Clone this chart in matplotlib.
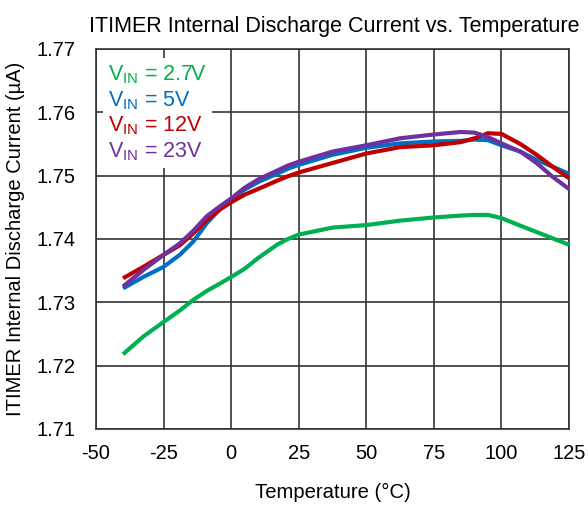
import matplotlib
matplotlib.use("Agg")
import matplotlib.pyplot as plt

plt.rcParams['font.family'] = ['Liberation Sans', 'DejaVu Sans']
plt.rcParams['mathtext.fontset'] = 'custom'
plt.rcParams['mathtext.rm'] = 'Liberation Sans'
plt.rcParams['mathtext.it'] = 'Liberation Sans:italic'
plt.rcParams['mathtext.bf'] = 'Liberation Sans:bold'
plt.rcParams['axes.unicode_minus'] = False

temps = [-40, -32.5, -25, -19, -14, -9, -4, 0, 5, 10, 17, 21, 25, 37.5, 50, 62.5,
         75, 85, 90, 95, 100, 107, 113, 119, 125]

vin_2p7 = [1.7218, 1.7246, 1.7269, 1.7287, 1.7304, 1.7318, 1.7330, 1.7340, 1.7353,
           1.7370, 1.7391, 1.7400, 1.7407, 1.7418, 1.7422, 1.7429, 1.7434, 1.7437,
           1.7438, 1.7438, 1.7433, 1.7421, 1.7411, 1.7401, 1.7391]
vin_5 = [1.7322, 1.7340, 1.7356, 1.7375, 1.7396, 1.7425, 1.7448, 1.7463, 1.7478,
         1.7490, 1.7503, 1.7511, 1.7517, 1.7533, 1.7544, 1.7551, 1.7554, 1.7555,
         1.7557, 1.7556, 1.7548, 1.7538, 1.7525, 1.7514, 1.7503]
vin_12 = [1.7338, 1.7356, 1.7375, 1.7390, 1.7409, 1.7430, 1.7447, 1.7458, 1.7470,
          1.7479, 1.7492, 1.7499, 1.7505, 1.7520, 1.7535, 1.7545, 1.7548, 1.7553,
          1.7559, 1.7567, 1.7566, 1.7550, 1.7533, 1.7514, 1.7496]
vin_23 = [1.7325, 1.7351, 1.7375, 1.7393, 1.7413, 1.7436, 1.7452, 1.7464, 1.7481,
          1.7494, 1.7508, 1.7516, 1.7522, 1.7538, 1.7548, 1.7559, 1.7565, 1.7569,
          1.7568, 1.7561, 1.7551, 1.7538, 1.7520, 1.7498, 1.7479]

labels = [r'V$_{\mathrm{IN}}$ = 2.7V', r'V$_{\mathrm{IN}}$ = 5V',
          r'V$_{\mathrm{IN}}$ = 12V', r'V$_{\mathrm{IN}}$ = 23V']
colors = ['#00B050', '#0070C0', '#C00000', '#7030A0']
series = [vin_2p7, vin_5, vin_12, vin_23]

x_ticks = [-50, -25, 0, 25, 50, 75, 100, 125]
y_ticks = [1.71, 1.72, 1.73, 1.74, 1.75, 1.76, 1.77]

fig = plt.figure(figsize=(5.88, 5.07), dpi=100)
ax = fig.add_axes([96/588, 1-429/507, (569-96)/588, (429-49)/507])

for ys, c, lab in zip(series, colors, labels):
    ax.plot(temps, ys, color=c, lw=3, label=lab, solid_capstyle='butt',
            solid_joinstyle='round', zorder=3)

ax.set_xlim(-50, 125)
ax.set_ylim(1.71, 1.77)
ax.set_xticks(x_ticks)
ax.set_xticklabels([str(v) for v in x_ticks])
ax.set_yticks(y_ticks)
ax.set_yticklabels([f'{v:.2f}' for v in y_ticks])
ax.tick_params(length=0, labelsize=14.5)
ax.tick_params(axis='y', pad=15)
ax.tick_params(axis='x', pad=11)
ax.grid(True, color='#333333', lw=1.2)
ax.set_axisbelow(True)
for s in ax.spines.values():
    s.set_color('#333333')
    s.set_linewidth(1.2)

ax.set_xlabel('Temperature (\u00b0C)', fontsize=14.6, labelpad=14)
ax.set_ylabel('ITIMER Internal Discharge Current (\u00b5A)', fontsize=14.5, labelpad=8)
ax.set_title('ITIMER Internal Discharge Current vs. Temperature', fontsize=15.5,
             pad=12, x=0.503)

leg = ax.legend(loc='upper left', bbox_to_anchor=(0.015, 0.975), frameon=True,
                handlelength=0, handletextpad=0, labelspacing=0.13,
                fontsize=15.5, borderpad=0.25, borderaxespad=0)
leg.get_frame().set_facecolor('white')
leg.get_frame().set_edgecolor('none')
leg.get_frame().set_alpha(1)
for t, c in zip(leg.get_texts(), colors):
    t.set_color(c)
for h in leg.legend_handles:
    h.set_visible(False)

fig.savefig('out.png', dpi=100)
